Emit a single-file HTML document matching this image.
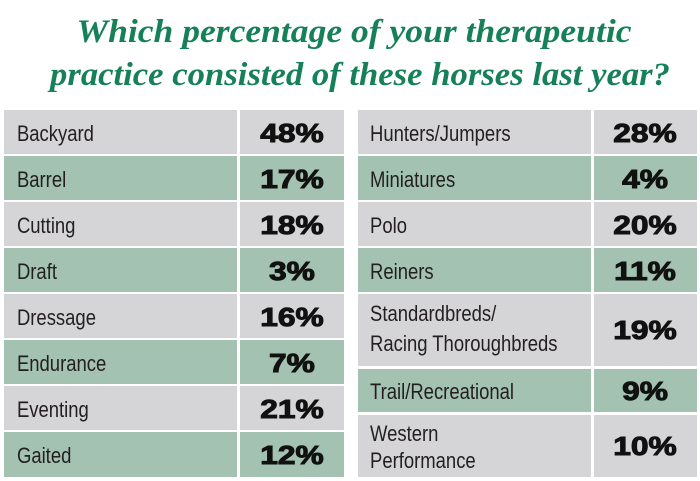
<!DOCTYPE html>
<html><head><meta charset="utf-8"><style>
html,body{margin:0;padding:0;background:#fff;width:700px;height:481px;overflow:hidden}
</style></head><body>
<svg width="700" height="481" xmlns="http://www.w3.org/2000/svg">
<g font-family="Liberation Serif, serif" font-weight="bold" font-style="italic" fill="#168059" font-size="33" text-anchor="middle">
<text x="354" y="42" textLength="555" lengthAdjust="spacingAndGlyphs">Which percentage of your therapeutic</text>
<text x="360" y="85" textLength="620" lengthAdjust="spacingAndGlyphs">practice consisted of these horses last year?</text>
</g>
<g id="rows">
<rect x="4" y="110" width="233" height="44" fill="#d5d5d7"/><rect x="240" y="110" width="104" height="44" fill="#d5d5d7"/>
<rect x="4" y="156" width="233" height="44" fill="#a3c2b2"/><rect x="240" y="156" width="104" height="44" fill="#a3c2b2"/>
<rect x="4" y="202" width="233" height="44" fill="#d5d5d7"/><rect x="240" y="202" width="104" height="44" fill="#d5d5d7"/>
<rect x="4" y="248" width="233" height="44" fill="#a3c2b2"/><rect x="240" y="248" width="104" height="44" fill="#a3c2b2"/>
<rect x="4" y="294" width="233" height="44" fill="#d5d5d7"/><rect x="240" y="294" width="104" height="44" fill="#d5d5d7"/>
<rect x="4" y="340" width="233" height="44" fill="#a3c2b2"/><rect x="240" y="340" width="104" height="44" fill="#a3c2b2"/>
<rect x="4" y="386" width="233" height="44" fill="#d5d5d7"/><rect x="240" y="386" width="104" height="44" fill="#d5d5d7"/>
<rect x="4" y="432" width="233" height="45" fill="#a3c2b2"/><rect x="240" y="432" width="104" height="45" fill="#a3c2b2"/>
<rect x="358" y="110" width="233" height="44" fill="#d5d5d7"/><rect x="594" y="110" width="103" height="44" fill="#d5d5d7"/>
<rect x="358" y="156" width="233" height="44" fill="#a3c2b2"/><rect x="594" y="156" width="103" height="44" fill="#a3c2b2"/>
<rect x="358" y="202" width="233" height="44" fill="#d5d5d7"/><rect x="594" y="202" width="103" height="44" fill="#d5d5d7"/>
<rect x="358" y="248" width="233" height="44" fill="#a3c2b2"/><rect x="594" y="248" width="103" height="44" fill="#a3c2b2"/>
<rect x="358" y="294" width="233" height="72" fill="#d5d5d7"/><rect x="594" y="294" width="103" height="72" fill="#d5d5d7"/>
<rect x="358" y="369" width="233" height="43" fill="#a3c2b2"/><rect x="594" y="369" width="103" height="43" fill="#a3c2b2"/>
<rect x="358" y="415" width="233" height="62" fill="#d5d5d7"/><rect x="594" y="415" width="103" height="62" fill="#d5d5d7"/>
</g>
<g font-family="Liberation Sans, sans-serif" font-size="22" fill="#231f20" transform="scale(0.84,1)">
<text x="20.2" y="141">Backyard</text>
<text x="20.2" y="187">Barrel</text>
<text x="20.2" y="233">Cutting</text>
<text x="20.2" y="279">Draft</text>
<text x="20.2" y="325">Dressage</text>
<text x="20.2" y="371">Endurance</text>
<text x="20.2" y="417">Eventing</text>
<text x="20.2" y="463">Gaited</text>
<text x="440.5" y="141">Hunters/Jumpers</text>
<text x="440.5" y="187">Miniatures</text>
<text x="440.5" y="233">Polo</text>
<text x="440.5" y="279">Reiners</text>
<text x="440.5" y="321">Standardbreds/</text>
<text x="440.5" y="351">Racing Thoroughbreds</text>
<text x="440.5" y="399">Trail/Recreational</text>
<text x="440.5" y="441">Western</text>
<text x="440.5" y="468">Performance</text>
</g>
<g font-family="Liberation Sans, sans-serif" font-weight="bold" font-size="26" fill="#111" stroke="#111" stroke-width="1" text-anchor="middle" transform="scale(1.22,1)">
<text x="239.3" y="142">48%</text>
<text x="239.3" y="188">17%</text>
<text x="239.3" y="234">18%</text>
<text x="239.3" y="280">3%</text>
<text x="239.3" y="326">16%</text>
<text x="239.3" y="372">7%</text>
<text x="239.3" y="418">21%</text>
<text x="239.3" y="464">12%</text>
<text x="528.7" y="142">28%</text>
<text x="528.7" y="188">4%</text>
<text x="528.7" y="234">20%</text>
<text x="528.7" y="280">11%</text>
<text x="528.7" y="339">19%</text>
<text x="528.7" y="400">9%</text>
<text x="528.7" y="455">10%</text>
</g>
</svg>
</body></html>
